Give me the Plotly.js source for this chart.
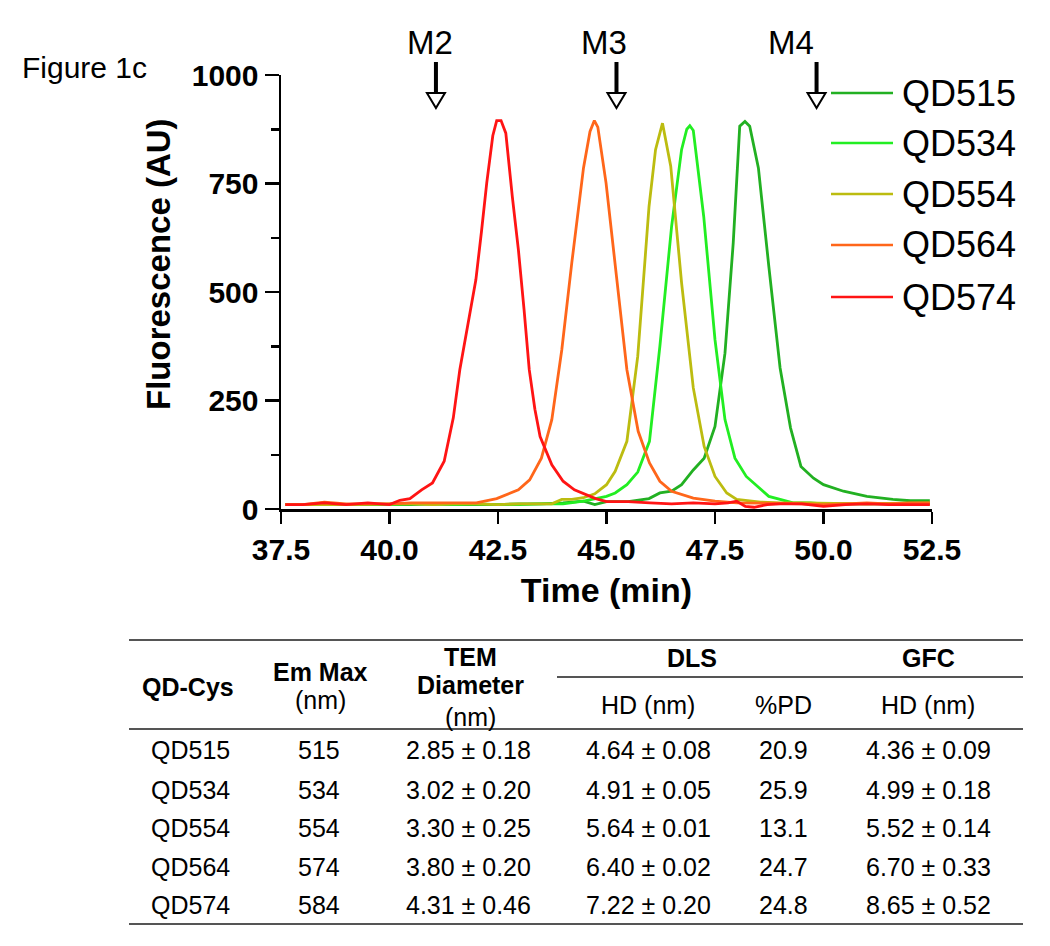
<!DOCTYPE html>
<html>
<head>
<meta charset="utf-8">
<script src="https://cdn.plot.ly/plotly-3.0.1.min.js"></script>
<style>html,body{margin:0;padding:0;background:#fff;}#chart{width:1050px;height:946px;}</style>
</head>
<body>
<div id="chart"></div>
<script>
// ---------- chromatogram data (time in min, fluorescence in AU) ----------
const seriesNames = ['QD515', 'QD534', 'QD554', 'QD564', 'QD574'];
const seriesColors = ['#22b022', '#22ee22', '#bcbc10', '#ff661a', '#ff1414'];

const tQD515 = [37.6, 38.5, 39.5, 40.0, 40.5, 41.0, 41.5, 42.0, 42.5, 43.0, 43.5, 44.0, 44.47, 44.73, 45.0, 45.5, 45.98, 46.23, 46.5, 46.73, 47.0, 47.25, 47.5, 47.73, 47.92, 48.07, 48.19, 48.3, 48.5, 48.74, 49.0, 49.24, 49.48, 49.77, 50.0, 50.46, 51.0, 51.6, 52.0, 52.45];
const yQD515 = [10, 10, 10, 10, 10, 12, 10, 10, 10, 12, 12, 14, 18, 10, 17, 17, 24, 37, 41, 56, 90, 117, 190, 359, 613, 882, 893, 882, 786, 559, 325, 187, 98, 71, 56, 41, 29, 22, 19, 19];

const tQD534 = [37.6, 38.5, 39.5, 40.0, 40.5, 41.0, 41.5, 42.0, 42.5, 43.0, 43.5, 44.0, 44.47, 45.0, 45.2, 45.47, 45.72, 45.99, 46.23, 46.5, 46.73, 46.85, 46.92, 47.0, 47.24, 47.5, 47.73, 47.96, 48.22, 48.47, 48.74, 49.0, 49.3, 49.7, 50.0, 50.5, 51.0, 51.5, 52.0, 52.45];
const yQD534 = [10, 10, 10, 10, 12, 12, 10, 12, 10, 10, 12, 12, 18, 29, 37, 56, 85, 156, 375, 651, 828, 875, 883, 872, 674, 390, 206, 117, 75, 52, 29, 22, 14, 14, 12, 12, 12, 12, 12, 12];

const tQD554 = [37.6, 38.5, 39.0, 40.0, 40.5, 41.0, 41.5, 42.0, 42.5, 43.0, 43.5, 43.74, 43.97, 44.2, 44.47, 44.73, 45.0, 45.2, 45.47, 45.72, 45.98, 46.13, 46.29, 46.48, 46.73, 47.0, 47.25, 47.5, 47.77, 48.0, 48.55, 49.0, 49.5, 50.0, 50.5, 51.0, 51.5, 52.0, 52.45];
const yQD554 = [10, 10, 10, 12, 12, 10, 12, 12, 10, 12, 12, 12, 22, 22, 26, 35, 56, 87, 156, 352, 697, 828, 889, 790, 521, 279, 144, 75, 37, 22, 16, 14, 14, 13, 12, 12, 13, 14, 14];

const tQD564 = [37.6, 38.0, 38.5, 39.0, 39.5, 40.0, 40.5, 41.0, 41.5, 42.0, 42.47, 42.7, 42.97, 43.23, 43.5, 43.74, 43.97, 44.2, 44.47, 44.62, 44.72, 44.8, 44.99, 45.23, 45.47, 45.73, 45.99, 46.23, 46.5, 47.0, 47.5, 48.0, 48.5, 49.0, 49.5, 50.0, 50.5, 51.0, 51.5, 52.0, 52.45];
const yQD564 = [10, 10, 16, 12, 12, 12, 14, 14, 14, 14, 24, 33, 44, 67, 117, 206, 367, 567, 786, 870, 895, 880, 751, 536, 321, 179, 106, 64, 41, 25, 18, 14, 14, 13, 12, 10, 12, 14, 12, 14, 14];

const tQD574 = [37.6, 38.0, 38.5, 38.8, 39.0, 39.5, 39.8, 40.0, 40.24, 40.47, 40.74, 40.99, 41.26, 41.47, 41.62, 41.82, 41.99, 42.12, 42.24, 42.38, 42.47, 42.57, 42.68, 42.83, 42.97, 43.1, 43.22, 43.35, 43.47, 43.74, 44.0, 44.26, 44.54, 44.75, 45.0, 45.5, 46.0, 46.5, 47.0, 47.5, 47.8, 48.0, 48.2, 48.4, 48.7, 49.0, 49.5, 49.8, 50.0, 50.5, 51.0, 51.5, 52.0, 52.45];
const yQD574 = [10, 10, 14, 12, 10, 14, 12, 10, 20, 24, 44, 60, 110, 210, 321, 436, 528, 640, 751, 860, 895, 895, 866, 720, 597, 460, 321, 230, 167, 102, 64, 44, 33, 24, 17, 17, 14, 12, 14, 12, 14, 18, 6, 4, 10, 12, 12, 8, 6, 10, 12, 10, 10, 10];

// molecular-weight markers
const markerNames = ['M2', 'M3', 'M4'];
const markerTimes = [41.07, 45.23, 49.84];

// ---------- table data ----------
const tableQD = ['QD515', 'QD534', 'QD554', 'QD564', 'QD574'];
const tableEmMax = [515, 534, 554, 574, 584];
const temMean = [2.85, 3.02, 3.30, 3.80, 4.31];
const temSd = [0.18, 0.20, 0.25, 0.20, 0.46];
const dlsMean = [4.64, 4.91, 5.64, 6.40, 7.22];
const dlsSd = [0.08, 0.05, 0.01, 0.02, 0.20];
const dlsPD = [20.9, 25.9, 13.1, 24.7, 24.8];
const gfcMean = [4.36, 4.99, 5.52, 6.70, 8.65];
const gfcSd = [0.09, 0.18, 0.14, 0.33, 0.52];

// ---------- layout helpers (pixel -> paper) ----------
const W = 1050, H = 946;
const X = px => px / W;
const Y = py => 1 - py / H;
const FONT = 'Liberation Sans, Arial, Helvetica, sans-serif';

const tVals = [tQD515, tQD534, tQD554, tQD564, tQD574];
const yVals = [yQD515, yQD534, yQD554, yQD564, yQD574];

const traces = seriesNames.map((n, i) => ({
  type: 'scatter', mode: 'lines', name: n,
  x: tVals[i], y: yVals[i],
  line: {color: seriesColors[i], width: 2.8},
  showlegend: false, hoverinfo: 'x+y+name'
}));

const shapes = [];
const annotations = [];

// title
annotations.push({xref: 'paper', yref: 'paper', x: X(20), y: Y(67), xanchor: 'left', yanchor: 'middle',
  text: 'Figure 1c', showarrow: false, font: {family: FONT, size: 30, color: '#000'}});

// y axis title
annotations.push({xref: 'paper', yref: 'paper', x: X(158), y: Y(264), xanchor: 'center', yanchor: 'middle',
  text: 'Fluorescence (AU)', textangle: -90, showarrow: false,
  font: {family: FONT, size: 33, color: '#000', weight: 'bold'}});

// marker arrows
const labelShift = [-6, -12, -26];
markerTimes.forEach((t, i) => {
  shapes.push({type: 'line', xref: 'x', yref: 'paper', x0: t, x1: t, y0: Y(62), y1: Y(94),
    line: {color: '#000', width: 4}});
  shapes.push({type: 'path', xref: 'x', yref: 'paper', xsizemode: 'pixel', xanchor: t,
    path: 'M -9,' + Y(93) + ' L 9,' + Y(93) + ' L 0,' + Y(108) + ' Z',
    fillcolor: '#fff', line: {color: '#000', width: 2}});
  annotations.push({xref: 'x', yref: 'paper', x: t, xshift: labelShift[i], y: Y(42), xanchor: 'center', yanchor: 'middle',
    text: markerNames[i], showarrow: false, font: {family: FONT, size: 33, color: '#000'}});
});

// manual legend
const legendY = [93, 143, 194, 245, 297];
seriesNames.forEach((n, i) => {
  shapes.push({type: 'line', xref: 'paper', yref: 'paper', x0: X(831), x1: X(893), y0: Y(legendY[i]), y1: Y(legendY[i]),
    line: {color: seriesColors[i], width: 2.6}});
  annotations.push({xref: 'paper', yref: 'paper', x: X(900), y: Y(legendY[i]), xanchor: 'left', yanchor: 'middle',
    text: n, showarrow: false, font: {family: FONT, size: 36, color: '#000'}});
});

// ---------- table ----------
const lineCol = '#555';
function hline(x0, x1, y) {
  shapes.push({type: 'line', xref: 'paper', yref: 'paper', x0: X(x0), x1: X(x1), y0: Y(y), y1: Y(y),
    line: {color: lineCol, width: 2}});
}
hline(129, 1023, 640);
hline(557, 1023, 677);
hline(129, 1023, 729);
hline(129, 1023, 924);

function cell(txt, px, py, bold) {
  const f = {family: FONT, size: 25, color: '#000'};
  if (bold) f.weight = 'bold';
  annotations.push({xref: 'paper', yref: 'paper', x: X(px), y: Y(py), xanchor: 'center', yanchor: 'middle',
    text: txt, showarrow: false, font: f});
}
cell('QD-Cys', 188, 687, true);
cell('Em Max', 320, 672, true);
cell('(nm)', 320, 700, false);
cell('TEM', 470, 657, true);
cell('Diameter', 470, 685, true);
cell('(nm)', 470, 717, false);
cell('DLS', 692, 658, true);
cell('GFC', 928, 658, true);
cell('HD (nm)', 648, 705, false);
cell('%PD', 783, 705, false);
cell('HD (nm)', 928, 705, false);

const rowY = [750, 790, 828, 867, 905];
const colX = [190, 319, 468, 648, 783, 928];
tableQD.forEach((q, r) => {
  const row = [
    q,
    String(tableEmMax[r]),
    temMean[r].toFixed(2) + ' ± ' + temSd[r].toFixed(2),
    dlsMean[r].toFixed(2) + ' ± ' + dlsSd[r].toFixed(2),
    dlsPD[r].toFixed(1),
    gfcMean[r].toFixed(2) + ' ± ' + gfcSd[r].toFixed(2)
  ];
  row.forEach((v, c) => cell(v, colX[c], rowY[r], false));
});

const layout = {
  width: W, height: H,
  margin: {l: 0, r: 0, t: 0, b: 0},
  paper_bgcolor: '#fff', plot_bgcolor: '#fff',
  font: {family: FONT, color: '#000'},
  showlegend: false,
  xaxis: {
    domain: [X(281), X(932)], range: [37.5, 52.5], automargin: false,
    tick0: 37.5, dtick: 2.5, tickformat: '.1f',
    ticks: 'outside', ticklen: 12, tickwidth: 2.5, tickcolor: '#000',
    showline: true, linewidth: 2.5, linecolor: '#000',
    showgrid: false, zeroline: false,
    tickfont: {family: FONT, size: 30, color: '#000', weight: 'bold'},
    title: {text: 'Time (min)', standoff: 14, font: {family: FONT, size: 34, color: '#000', weight: 'bold'}}
  },
  yaxis: {
    domain: [Y(509), Y(75)], range: [0, 1000], automargin: false,
    tick0: 0, dtick: 250,
    ticks: 'outside', ticklen: 14, tickwidth: 2.5, tickcolor: '#000',
    minor: {dtick: 125, ticks: 'outside', ticklen: 8, tickwidth: 2.5, tickcolor: '#000', showgrid: false},
    showline: true, linewidth: 2.5, linecolor: '#000',
    showgrid: false, zeroline: false,
    tickfont: {family: FONT, size: 30, color: '#000', weight: 'bold'}
  },
  shapes: shapes,
  annotations: annotations
};

Plotly.newPlot('chart', traces, layout, {displayModeBar: false, staticPlot: true});
</script>
</body>
</html>
